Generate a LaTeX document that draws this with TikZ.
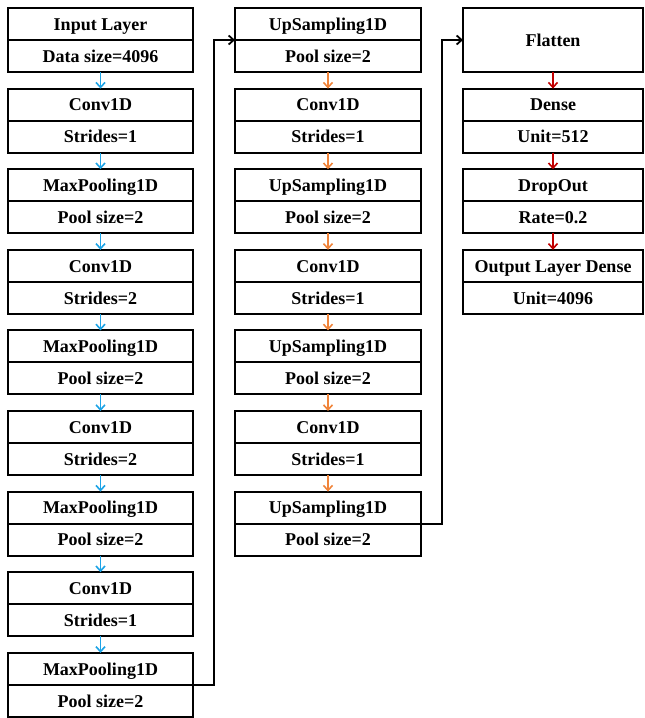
\documentclass[tikz,border=0pt]{standalone}
\usepackage{fontspec}
\setmainfont{Liberation Serif}
\usetikzlibrary{arrows.meta}
\definecolor{cblue}{HTML}{1CA3E6}
\definecolor{corange}{HTML}{F0843A}
\definecolor{cred}{HTML}{C00000}
\tikzset{
  half/.style={draw, line width=2pt, rectangle, inner sep=0pt, outer sep=0pt, minimum height=32pt, anchor=north,
    text height=12.5pt, text depth=0pt, font=\fontsize{18}{20}\selectfont\bfseries},
  flow/.style={line width=1.6pt, -{Straight Barb[length=5pt,width=9pt,line width=1.6pt]}},
  link/.style={line width=2pt, -{Straight Barb[length=5pt,width=9pt,line width=1.8pt]}},
}
\newcommand{\mylayer}[6]{%
  \node[half, minimum width=#4pt] (#1t) at (#2,#3) {#5};
  \node[half, minimum width=#4pt] (#1b) at (#1t.south) {#6};
}
\begin{document}
\begin{tikzpicture}[x=1pt,y=-1pt]
\useasboundingbox (0,0) rectangle (645,718);
% column 1
\mylayer{a1}{100.5}{8}{185}{Input Layer}{Data size=4096}
\mylayer{a2}{100.5}{88.6}{185}{Conv1D}{Strides=1}
\mylayer{a3}{100.5}{169.2}{185}{MaxPooling1D}{Pool size=2}
\mylayer{a4}{100.5}{249.8}{185}{Conv1D}{Strides=2}
\mylayer{a5}{100.5}{330.4}{185}{MaxPooling1D}{Pool size=2}
\mylayer{a6}{100.5}{411}{185}{Conv1D}{Strides=2}
\mylayer{a7}{100.5}{491.6}{185}{MaxPooling1D}{Pool size=2}
\mylayer{a8}{100.5}{572.2}{185}{Conv1D}{Strides=1}
\mylayer{a9}{100.5}{652.8}{185}{MaxPooling1D}{Pool size=2}
% column 2
\mylayer{b1}{328}{8}{186}{UpSampling1D}{Pool size=2}
\mylayer{b2}{328}{88.6}{186}{Conv1D}{Strides=1}
\mylayer{b3}{328}{169.2}{186}{UpSampling1D}{Pool size=2}
\mylayer{b4}{328}{249.8}{186}{Conv1D}{Strides=1}
\mylayer{b5}{328}{330.4}{186}{UpSampling1D}{Pool size=2}
\mylayer{b6}{328}{411}{186}{Conv1D}{Strides=1}
\mylayer{b7}{328}{491.6}{186}{UpSampling1D}{Pool size=2}
% column 3
\node[half, minimum width=180pt, minimum height=64pt] (c1) at (553,8) {Flatten};
\mylayer{c2}{553}{88.6}{180}{Dense}{Unit=512}
\mylayer{c3}{553}{169.2}{180}{DropOut}{Rate=0.2}
\mylayer{c4}{553}{249.8}{180}{Output Layer Dense}{Unit=4096}
% arrows
\foreach \i/\j in {1/2,2/3,3/4,4/5,5/6,6/7,7/8,8/9}
  \draw[flow, cblue] (a\i b.south) -- (a\j t.north);
\foreach \i/\j in {1/2,2/3,3/4,4/5,5/6,6/7}
  \draw[flow, corange] (b\i b.south) -- (b\j t.north);
\draw[flow, cred] (c1.south) -- (c2t.north);
\draw[flow, cred] (c2b.south) -- (c3t.north);
\draw[flow, cred] (c3b.south) -- (c4t.north);
% links between columns
\draw[link] (a9t.south east) -- ++(21,0) |- (b1t.south west);
\draw[link] (b7t.south east) -- ++(21,0) |- (c1.west |- b1t.south);
\end{tikzpicture}
\end{document}
